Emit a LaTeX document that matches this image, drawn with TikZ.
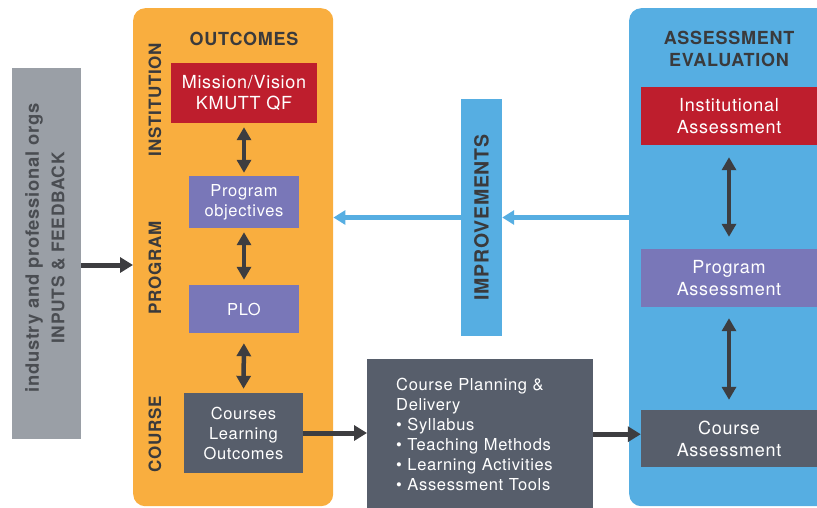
\documentclass[tikz,border=0pt]{standalone}
\usepackage{fontspec}
\setmainfont{TeX Gyre Heros}[LetterSpace=4]
\usetikzlibrary{arrows.meta}
\definecolor{orangeC}{HTML}{F9AE3F}
\definecolor{blueC}{HTML}{56AEE2}
\definecolor{redC}{HTML}{BE1E2D}
\definecolor{purpleC}{HTML}{7977B8}
\definecolor{slateC}{HTML}{575E6B}
\definecolor{greyC}{HTML}{9A9FA6}
\definecolor{darkT}{HTML}{3A3A3C}
\definecolor{greyT}{HTML}{4A4D52}
\definecolor{arrC}{HTML}{3D3D40}
\tikzset{
  box/.style={inner sep=0pt, text=white, align=center},
  panel/.style={inner sep=0pt, rounded corners=12pt, anchor=north west},
  side/.style={rotate=90, text=darkT, font=\bfseries\fontsize{17}{20}\selectfont},
  darr/.style={draw=arrC, line width=5pt, -{Triangle[width=15pt,length=13pt]}},
  ddarr/.style={draw=arrC, line width=4.5pt, {Triangle[width=14pt,length=13pt]}-{Triangle[width=14pt,length=13pt]}},
  barr/.style={draw=blueC, line width=5pt, -{Triangle[width=14pt,length=12pt]}},
}
\begin{document}
\begin{tikzpicture}[x=1pt,y=-1pt]
\useasboundingbox (0,0) rectangle (817,507);
\begin{scope}
\clip (0,0) rectangle (817,507);
% panels
\node[panel, fill=orangeC, minimum width=200pt, minimum height=498pt] (outc) at (133,8) {};
\node[panel, fill=blueC, minimum width=210pt, minimum height=498pt] (bluep) at (629,8) {};
% left grey box
\node[box, fill=greyC, minimum width=69pt, minimum height=371pt] (grey) at (46.5,253.5) {};
\node[rotate=90, align=center, text=greyT, font=\bfseries\fontsize{18.4}{25.5}\selectfont] (greyt) at (45,248)
  {industry and professional orgs\\{\fontsize{17.4}{25.5}\selectfont INPUTS \& FEEDBACK}};
% outcomes column
\node[text=darkT, font=\bfseries\fontsize{18}{22}\selectfont] (outt) at (244,39) {OUTCOMES};
\node[side] (inst) at (155,100) {INSTITUTION};
\node[side] (prog) at (155,268) {PROGRAM};
\node[side] (cour) at (155,434) {COURSE};
\node[box, fill=redC, minimum width=146pt, minimum height=60pt, font=\fontsize{18}{21}\selectfont] (mv) at (244,93) {Mission/Vision\\KMUTT QF};
\node[box, fill=purpleC, minimum width=110pt, minimum height=52pt, font=\fontsize{16.5}{20}\selectfont] (po) at (244,202) {Program\\objectives};
\node[box, fill=purpleC, minimum width=110pt, minimum height=48pt, font=\fontsize{16.5}{20}\selectfont] (plo) at (244,309) {PLO};
\node[box, fill=slateC, minimum width=119pt, minimum height=80pt, font=\fontsize{16.5}{20}\selectfont] (clo) at (243.5,433) {Courses\\Learning\\Outcomes};
% course planning
\node[box, fill=slateC, anchor=north west, align=left, text width=168pt, inner xsep=29pt, minimum height=150pt, font=\fontsize{16.5}{20}\selectfont] (cpd) at (367,359)
  {Course Planning \&\\Delivery\\• Syllabus\\• Teaching Methods\\• Learning Activities\\• Assessment Tools};
% improvements
\node[box, fill=blueC, minimum width=41pt, minimum height=237pt] (impr) at (481.5,217.5) {};
\node[rotate=90, text=darkT, font=\bfseries\fontsize{19.5}{22}\selectfont] (imprt) at (impr.center) {IMPROVEMENTS};
% assessment column
\node[text=darkT, align=center, font=\bfseries\fontsize{18}{22}\selectfont] (asst) at (729,49) {ASSESSMENT\\EVALUATION};
\node[box, fill=redC, minimum width=176pt, minimum height=58pt, font=\fontsize{18}{22}\selectfont] (ia) at (729,116) {Institutional\\Assessment};
\node[box, fill=purpleC, minimum width=176pt, minimum height=58pt, font=\fontsize{18}{22}\selectfont] (pa) at (729,278) {Program\\Assessment};
\node[box, fill=slateC, minimum width=176pt, minimum height=57pt, font=\fontsize{18}{22}\selectfont] (ca) at (729,438.5) {Course\\Assessment};
% connectors
\draw[darr] ([yshift=-11.5pt]grey.east) -- ([yshift=-11.5pt]grey.east -| outc.west);
\draw[ddarr, shorten <=4pt, shorten >=3pt] (mv.south) -- (po.north);
\draw[ddarr, shorten <=4pt, shorten >=5pt] (po.south) -- (plo.north);
\draw[ddarr, shorten <=10pt, shorten >=4pt] (plo.south) -- (clo.north);
\draw[darr] (clo.east) -- (clo.east -| cpd.west);
\draw[darr] (cpd.east) -- (cpd.east -| ca.west);
\draw[ddarr, shorten <=12pt, shorten >=12pt] (ia.south) -- (pa.north);
\draw[ddarr, shorten <=11pt, shorten >=10pt] (pa.south) -- (ca.north);
\draw[barr] (impr.east -| bluep.west) -- (impr.east);
\draw[barr] (impr.west) -- (impr.west -| outc.east);
\end{scope}
\end{tikzpicture}
\end{document}
